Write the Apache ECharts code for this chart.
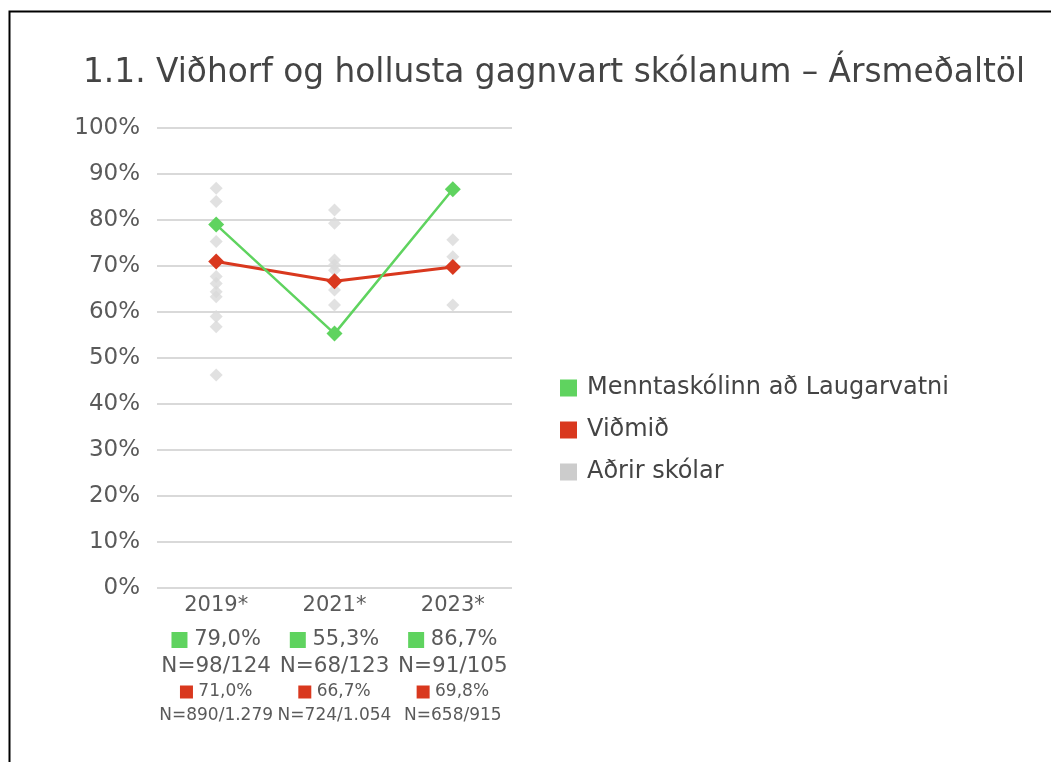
<!DOCTYPE html>
<html>
<head>
<meta charset="utf-8">
<script src="https://cdn.jsdelivr.net/npm/echarts@6/dist/echarts.min.js"></script>
<style>html,body{margin:0;padding:0;background:#fff}#c{width:1051px;height:762px}</style>
</head>
<body>
<div id="c"></div>
<script>
const titleText = '1.1. Viðhorf og hollusta gagnvart skólanum – Ársmeðaltöl';
const categories = ['2019*', '2021*', '2023*'];
const schoolName = 'Menntaskólinn að Laugarvatni';
const refName = 'Viðmið';
const otherName = 'Aðrir skólar';
const schoolValues = [79.0, 55.3, 86.7];
const refValues = [71.0, 66.7, 69.8];
const schoolLabels = ['79,0%', '55,3%', '86,7%'];
const schoolN = ['N=98/124', 'N=68/123', 'N=91/105'];
const refLabels = ['71,0%', '66,7%', '69,8%'];
const refN = ['N=890/1.279', 'N=724/1.054', 'N=658/915'];
const others2019 = [86.9, 84.0, 75.3, 67.7, 66.2, 64.4, 63.3, 59.0, 56.8, 46.3];
const others2021 = [82.2, 79.3, 71.3, 70.2, 69.1, 64.8, 61.5];
const others2023 = [75.7, 72.0, 61.5];
const yTicks = [0, 10, 20, 30, 40, 50, 60, 70, 80, 90, 100];

const GREEN = '#5fd35f';
const RED = '#d9381e';
const GRAY = '#dadada';
const FONT = '"DejaVu Sans", sans-serif';
const TXT = '#5a5a5a';

const othersAll = [others2019, others2021, others2023];
const otherData = [];
othersAll.forEach((arr, i) => arr.forEach(v => otherData.push([i, v])));

const chart = echarts.init(document.getElementById('c'));
chart.setOption({
  backgroundColor: '#fff',
  animation: false,
  textStyle: { fontFamily: FONT },
  title: {
    text: titleText,
    left: 78, top: 52,
    textStyle: { fontFamily: FONT, fontSize: 32.8, fontWeight: 'normal', color: '#444' }
  },
  graphic: [{
    type: 'rect', left: 7, top: 9, silent: true,
    shape: { width: 1100, height: 800 },
    style: { fill: 'none', stroke: '#000', lineWidth: 2 }
  }],
  legend: {
    orient: 'vertical', left: 555, top: 371, itemGap: 18,
    icon: 'rect', itemWidth: 17, itemHeight: 17,
    textStyle: { fontFamily: FONT, fontSize: 24, fontWeight: 'normal', color: '#444', padding: [0, 0, 0, 5] },
    data: [
      { name: schoolName, itemStyle: { color: GREEN } },
      { name: refName, itemStyle: { color: RED } },
      { name: otherName, itemStyle: { color: '#bfbfbf' } }
    ]
  },
  grid: { left: 157, right: 539, top: 128, bottom: 174 },
  xAxis: {
    type: 'category', data: categories, boundaryGap: true,
    axisLine: { show: false }, axisTick: { show: false },
    axisLabel: {
      margin: 0, interval: 0,
      formatter: (v, i) => `{cat|${v}}\n{gs|}{gv| ${schoolLabels[i]}}\n{gn|${schoolN[i]}}\n{rs|}{rv| ${refLabels[i]}}\n{rn|${refN[i]}}`,
      rich: {
        cat: { fontSize: 21, color: TXT, lineHeight: 36, fontFamily: FONT },
        gs: { width: 16, height: 16, backgroundColor: GREEN, lineHeight: 32 },
        gv: { fontSize: 21, color: TXT, lineHeight: 32, fontFamily: FONT },
        gn: { fontSize: 21.5, color: TXT, lineHeight: 20, fontFamily: FONT },
        rs: { width: 13, height: 13, backgroundColor: RED, lineHeight: 32 },
        rv: { fontSize: 17, color: TXT, lineHeight: 32, fontFamily: FONT },
        rn: { fontSize: 17, color: TXT, lineHeight: 16, fontFamily: FONT }
      }
    }
  },
  yAxis: {
    type: 'value', min: 0, max: 100, interval: 10,
    axisLine: { show: false }, axisTick: { show: false },
    axisLabel: { margin: 17, fontSize: 23, color: TXT, fontFamily: FONT,
      formatter: v => yTicks.includes(v) ? v + '%' : '' },
    splitLine: { lineStyle: { color: '#d9d9d9', width: 2 } }
  },
  series: [
    {
      name: otherName, type: 'scatter', data: otherData, z: 1,
      symbol: 'diamond', symbolSize: 13,
      itemStyle: { color: GRAY }
    },
    {
      name: refName, type: 'line', data: refValues, z: 3,
      symbol: 'diamond', symbolSize: 16,
      lineStyle: { color: RED, width: 3 }, itemStyle: { color: RED }
    },
    {
      name: schoolName, type: 'line', data: schoolValues, z: 4,
      symbol: 'diamond', symbolSize: 16,
      lineStyle: { color: GREEN, width: 2.5 }, itemStyle: { color: GREEN }
    }
  ]
});
</script>
</body>
</html>
